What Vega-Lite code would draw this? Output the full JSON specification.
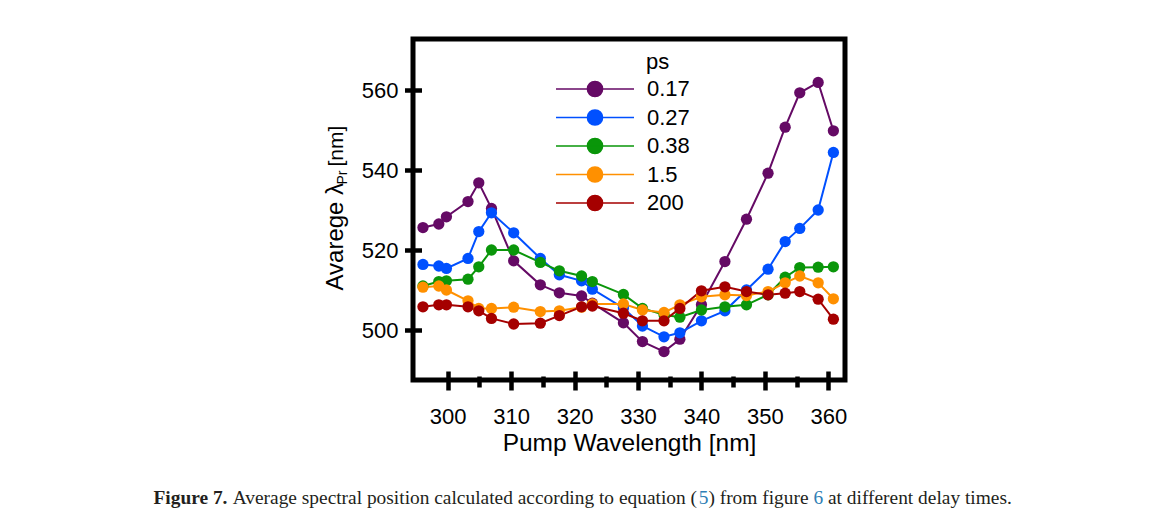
{
  "$schema": "https://vega.github.io/schema/vega-lite/v6.json",
  "width": 432,
  "height": 341,
  "autosize": "none",
  "padding": {"left": 413, "top": 39, "right": 323, "bottom": 151},
  "background": "white",
  "config": {
    "view": {"stroke": "black", "strokeWidth": 5},
    "font": "Liberation Sans",
    "axis": {"grid": false}
  },
  "data": {"values": [
    {"w": 296.1, "s": "0.17", "v": 525.6}, {"w": 298.6, "s": "0.17", "v": 526.5}, {"w": 299.8, "s": "0.17", "v": 528.3}, {"w": 303.2, "s": "0.17", "v": 532.1}, {"w": 304.9, "s": "0.17", "v": 536.8}, {"w": 306.9, "s": "0.17", "v": 530.4}, {"w": 310.4, "s": "0.17", "v": 517.3}, {"w": 314.6, "s": "0.17", "v": 511.3}, {"w": 317.6, "s": "0.17", "v": 509.3}, {"w": 321.1, "s": "0.17", "v": 508.5}, {"w": 322.8, "s": "0.17", "v": 506.7}, {"w": 327.7, "s": "0.17", "v": 501.8}, {"w": 330.7, "s": "0.17", "v": 497.1}, {"w": 334.1, "s": "0.17", "v": 494.6}, {"w": 336.6, "s": "0.17", "v": 497.7}, {"w": 340.0, "s": "0.17", "v": 506.3}, {"w": 343.7, "s": "0.17", "v": 517.1}, {"w": 347.1, "s": "0.17", "v": 527.7}, {"w": 350.5, "s": "0.17", "v": 539.2}, {"w": 353.2, "s": "0.17", "v": 550.7}, {"w": 355.5, "s": "0.17", "v": 559.3}, {"w": 358.4, "s": "0.17", "v": 561.9}, {"w": 360.8, "s": "0.17", "v": 549.8},
    {"w": 296.1, "s": "0.27", "v": 516.4}, {"w": 298.6, "s": "0.27", "v": 516.0}, {"w": 299.8, "s": "0.27", "v": 515.4}, {"w": 303.2, "s": "0.27", "v": 517.9}, {"w": 304.9, "s": "0.27", "v": 524.6}, {"w": 306.9, "s": "0.27", "v": 529.3}, {"w": 310.4, "s": "0.27", "v": 524.3}, {"w": 314.6, "s": "0.27", "v": 517.9}, {"w": 317.6, "s": "0.27", "v": 513.8}, {"w": 321.1, "s": "0.27", "v": 512.3}, {"w": 322.8, "s": "0.27", "v": 510.2}, {"w": 327.7, "s": "0.27", "v": 505.5}, {"w": 330.7, "s": "0.27", "v": 501.0}, {"w": 334.1, "s": "0.27", "v": 498.3}, {"w": 336.6, "s": "0.27", "v": 499.3}, {"w": 340.0, "s": "0.27", "v": 502.3}, {"w": 343.7, "s": "0.27", "v": 504.8}, {"w": 347.1, "s": "0.27", "v": 510.0}, {"w": 350.5, "s": "0.27", "v": 515.2}, {"w": 353.2, "s": "0.27", "v": 522.1}, {"w": 355.5, "s": "0.27", "v": 525.4}, {"w": 358.4, "s": "0.27", "v": 530.0}, {"w": 360.8, "s": "0.27", "v": 544.4},
    {"w": 296.1, "s": "0.38", "v": 511.0}, {"w": 298.6, "s": "0.38", "v": 512.1}, {"w": 299.8, "s": "0.38", "v": 512.3}, {"w": 303.2, "s": "0.38", "v": 512.7}, {"w": 304.9, "s": "0.38", "v": 515.8}, {"w": 306.9, "s": "0.38", "v": 520.0}, {"w": 310.4, "s": "0.38", "v": 520.0}, {"w": 314.6, "s": "0.38", "v": 516.9}, {"w": 317.6, "s": "0.38", "v": 514.8}, {"w": 321.1, "s": "0.38", "v": 513.5}, {"w": 322.8, "s": "0.38", "v": 512.1}, {"w": 327.7, "s": "0.38", "v": 508.9}, {"w": 330.7, "s": "0.38", "v": 505.4}, {"w": 334.1, "s": "0.38", "v": 503.8}, {"w": 336.6, "s": "0.38", "v": 503.2}, {"w": 340.0, "s": "0.38", "v": 505.0}, {"w": 343.7, "s": "0.38", "v": 505.8}, {"w": 347.1, "s": "0.38", "v": 506.3}, {"w": 350.5, "s": "0.38", "v": 508.8}, {"w": 353.2, "s": "0.38", "v": 513.2}, {"w": 355.5, "s": "0.38", "v": 515.6}, {"w": 358.4, "s": "0.38", "v": 515.7}, {"w": 360.8, "s": "0.38", "v": 515.8},
    {"w": 296.1, "s": "1.5", "v": 510.7}, {"w": 298.6, "s": "1.5", "v": 511.0}, {"w": 299.8, "s": "1.5", "v": 510.0}, {"w": 303.2, "s": "1.5", "v": 507.3}, {"w": 304.9, "s": "1.5", "v": 505.4}, {"w": 306.9, "s": "1.5", "v": 505.4}, {"w": 310.4, "s": "1.5", "v": 505.7}, {"w": 314.6, "s": "1.5", "v": 504.6}, {"w": 317.6, "s": "1.5", "v": 504.8}, {"w": 321.1, "s": "1.5", "v": 505.7}, {"w": 322.8, "s": "1.5", "v": 506.5}, {"w": 327.7, "s": "1.5", "v": 506.5}, {"w": 330.7, "s": "1.5", "v": 505.0}, {"w": 334.1, "s": "1.5", "v": 504.4}, {"w": 336.6, "s": "1.5", "v": 506.3}, {"w": 340.0, "s": "1.5", "v": 508.3}, {"w": 343.7, "s": "1.5", "v": 508.8}, {"w": 347.1, "s": "1.5", "v": 508.6}, {"w": 350.5, "s": "1.5", "v": 509.6}, {"w": 353.2, "s": "1.5", "v": 511.8}, {"w": 355.5, "s": "1.5", "v": 513.5}, {"w": 358.4, "s": "1.5", "v": 511.8}, {"w": 360.8, "s": "1.5", "v": 507.8},
    {"w": 296.1, "s": "200", "v": 505.8}, {"w": 298.6, "s": "200", "v": 506.3}, {"w": 299.8, "s": "200", "v": 506.3}, {"w": 303.2, "s": "200", "v": 505.8}, {"w": 304.9, "s": "200", "v": 504.8}, {"w": 306.9, "s": "200", "v": 502.9}, {"w": 310.4, "s": "200", "v": 501.5}, {"w": 314.6, "s": "200", "v": 501.7}, {"w": 317.6, "s": "200", "v": 503.6}, {"w": 321.1, "s": "200", "v": 505.8}, {"w": 322.8, "s": "200", "v": 506.0}, {"w": 327.7, "s": "200", "v": 504.2}, {"w": 330.7, "s": "200", "v": 502.3}, {"w": 334.1, "s": "200", "v": 502.3}, {"w": 336.6, "s": "200", "v": 505.4}, {"w": 340.0, "s": "200", "v": 509.8}, {"w": 343.7, "s": "200", "v": 510.8}, {"w": 347.1, "s": "200", "v": 509.6}, {"w": 350.5, "s": "200", "v": 508.8}, {"w": 353.2, "s": "200", "v": 509.2}, {"w": 355.5, "s": "200", "v": 509.6}, {"w": 358.4, "s": "200", "v": 507.7}, {"w": 360.8, "s": "200", "v": 502.7}
  ]},
  "layer": [
    {
      "mark": {"type": "line", "strokeWidth": 2, "point": {"filled": true, "size": 127, "opacity": 1}},
      "encoding": {
        "x": {"field": "w", "type": "quantitative",
          "scale": {"domain": [294.53, 362.63], "nice": false, "zero": false},
          "axis": {"orient": "bottom", "offset": -9, "values": [300, 310, 320, 330, 340, 350, 360], "domain": false,
            "tickSize": 19, "tickWidth": 4.5, "tickColor": "black",
            "labelFontSize": 22, "labelColor": "black", "labelBaseline": "alphabetic", "labelPadding": 33.5,
            "title": "Pump Wavelength [nm]", "titleFontSize": 24.5, "titleFontWeight": "normal", "titleColor": "black",
            "titleBaseline": "alphabetic", "titleY": 79.5, "titleX": 216}},
        "y": {"field": "v", "type": "quantitative",
          "scale": {"domain": [487.5, 572.75], "nice": false, "zero": false},
          "axis": {"orient": "left", "offset": -8.5, "values": [500, 520, 540, 560], "domain": false,
            "tickSize": 17, "tickWidth": 4.5, "tickColor": "black",
            "labelFontSize": 22, "labelColor": "black", "labelPadding": 6.5,
            "title": "Avarege λ", "titleFontSize": 24, "titleFontWeight": "normal", "titleColor": "black",
            "titleAngle": 270, "titleAlign": "left", "titleBaseline": "alphabetic", "titleX": -79.5, "titleY": 251}},
        "color": {"field": "s", "type": "nominal",
          "scale": {"domain": ["0.17", "0.27", "0.38", "1.5", "200"], "range": ["#650a65", "#0050ff", "#0a960a", "#ff9000", "#a50000"]},
          "legend": {"orient": "none", "legendX": 168, "legendY": 12.5,
            "title": "ps", "titleFontSize": 22, "titleFontWeight": "normal", "titleColor": "black", "titlePadding": 1.5,
            "labelFontSize": 22, "labelColor": "black", "labelOffset": 38,
            "symbolType": "M-3,0H3M0.585,0A0.585,0.585,0,1,1,-0.585,0A0.585,0.585,0,1,1,0.585,0Z",
            "symbolSize": 676, "symbolStrokeWidth": 1.5, "rowPadding": 3.5,
            "encode": {
              "title": {"update": {"dx": {"value": 65}}},
              "symbols": {"update": {"fill": {"scale": "color", "field": "value"}, "stroke": {"scale": "color", "field": "value"}, "opacity": {"value": 1}}}}}}
      }
    },
    {
      "mark": {"type": "point", "opacity": 0},
      "encoding": {
        "x": {"field": "w", "type": "quantitative",
          "axis": {"orient": "bottom", "offset": -4, "values": [305, 315, 325, 335, 345, 355], "domain": false,
            "tickSize": 11, "tickWidth": 4.5, "tickColor": "black", "labels": false, "title": null}},
        "y": {"field": "v", "type": "quantitative",
          "axis": {"orient": "left", "domain": false, "ticks": false, "labels": false,
            "title": "Pr", "titleFontSize": 14, "titleFontWeight": "normal", "titleColor": "black",
            "titleAngle": 270, "titleAlign": "left", "titleBaseline": "alphabetic", "titleX": -67, "titleY": 145}}
      }
    },
    {
      "mark": {"type": "point", "opacity": 0},
      "encoding": {
        "x": {"field": "w", "type": "quantitative",
          "axis": {"orient": "bottom", "domain": false, "ticks": false, "labels": false,
            "title": "Figure 7.", "titleFont": "Liberation Serif", "titleFontSize": 19.4, "titleFontWeight": "bold", "titleColor": "#231f20",
            "titleAlign": "left", "titleBaseline": "alphabetic", "titleX": -260, "titleY": 123}},
        "y": {"field": "v", "type": "quantitative",
          "axis": {"orient": "left", "domain": false, "ticks": false, "labels": false,
            "title": "[nm]", "titleFontSize": 21, "titleFontWeight": "normal", "titleColor": "black",
            "titleAngle": 270, "titleAlign": "left", "titleBaseline": "alphabetic", "titleX": -71, "titleY": 127}}
      }
    },
    {
      "mark": {"type": "point", "opacity": 0},
      "encoding": {
        "x": {"field": "w", "type": "quantitative",
          "axis": {"orient": "bottom", "domain": false, "ticks": false, "labels": false,
            "title": "Average spectral position calculated according to equation (",
            "titleFont": "Liberation Serif", "titleFontSize": 19.4, "titleFontWeight": "normal", "titleColor": "#231f20",
            "titleAlign": "left", "titleBaseline": "alphabetic", "titleX": -180.8, "titleY": 123}},
        "y": {"field": "v", "type": "quantitative", "axis": null}
      }
    },
    {
      "mark": {"type": "point", "opacity": 0},
      "encoding": {
        "x": {"field": "w", "type": "quantitative",
          "axis": {"orient": "bottom", "domain": false, "ticks": false, "labels": false,
            "title": "5",
            "titleFont": "Liberation Serif", "titleFontSize": 19.4, "titleFontWeight": "normal", "titleColor": "#2f7fb5",
            "titleAlign": "left", "titleBaseline": "alphabetic", "titleX": 285.2, "titleY": 123}},
        "y": {"field": "v", "type": "quantitative", "axis": null}
      }
    },
    {
      "mark": {"type": "point", "opacity": 0},
      "encoding": {
        "x": {"field": "w", "type": "quantitative",
          "axis": {"orient": "bottom", "domain": false, "ticks": false, "labels": false,
            "title": ") from figure",
            "titleFont": "Liberation Serif", "titleFontSize": 19.4, "titleFontWeight": "normal", "titleColor": "#231f20",
            "titleAlign": "left", "titleBaseline": "alphabetic", "titleX": 294.9, "titleY": 123}},
        "y": {"field": "v", "type": "quantitative", "axis": null}
      }
    },
    {
      "mark": {"type": "point", "opacity": 0},
      "encoding": {
        "x": {"field": "w", "type": "quantitative",
          "axis": {"orient": "bottom", "domain": false, "ticks": false, "labels": false,
            "title": "6",
            "titleFont": "Liberation Serif", "titleFontSize": 19.4, "titleFontWeight": "normal", "titleColor": "#2f7fb5",
            "titleAlign": "left", "titleBaseline": "alphabetic", "titleX": 400.0, "titleY": 123}},
        "y": {"field": "v", "type": "quantitative", "axis": null}
      }
    },
    {
      "mark": {"type": "point", "opacity": 0},
      "encoding": {
        "x": {"field": "w", "type": "quantitative",
          "axis": {"orient": "bottom", "domain": false, "ticks": false, "labels": false,
            "title": "at different delay times.",
            "titleFont": "Liberation Serif", "titleFontSize": 19.4, "titleFontWeight": "normal", "titleColor": "#231f20",
            "titleAlign": "left", "titleBaseline": "alphabetic", "titleX": 414.5, "titleY": 123}},
        "y": {"field": "v", "type": "quantitative", "axis": null}
      }
    }
  ],
  "resolve": {"axis": {"x": "independent", "y": "independent"}}
}
